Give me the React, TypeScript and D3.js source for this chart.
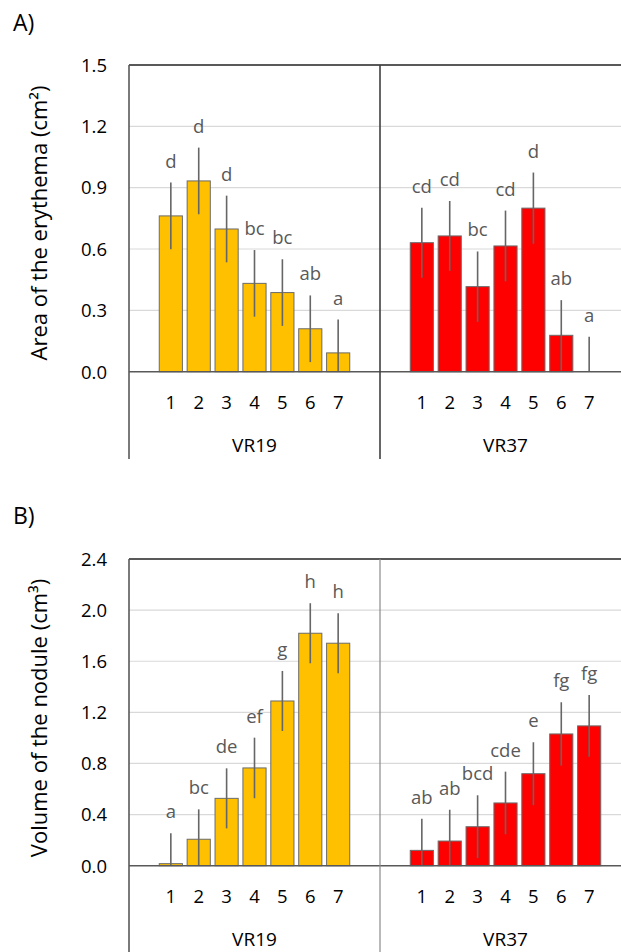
import React, { useRef, useEffect } from "react";
import * as d3 from "d3";

// values
const categories = ["1", "2", "3", "4", "5", "6", "7"];
const groups = ["VR19", "VR37"];

const areaTicks = [0, 0.3, 0.6, 0.9, 1.2, 1.5];
const areaVR19 = [0.762, 0.933, 0.698, 0.432, 0.387, 0.21, 0.092];
const areaVR19Err = [0.163, 0.163, 0.163, 0.163, 0.163, 0.163, 0.163];
const areaVR19Letters = ["d", "d", "d", "bc", "bc", "ab", "a"];
const areaVR37 = [0.631, 0.664, 0.416, 0.615, 0.8, 0.178, 0];
const areaVR37Err = [0.171, 0.171, 0.172, 0.173, 0.174, 0.172, 0.171];
const areaVR37Letters = ["cd", "cd", "bc", "cd", "d", "ab", "a"];

const noduleTicks = [0, 0.4, 0.8, 1.2, 1.6, 2.0, 2.4];
const noduleVR19 = [0.016, 0.207, 0.527, 0.765, 1.289, 1.819, 1.741];
const noduleVR19Err = [0.237, 0.234, 0.235, 0.237, 0.235, 0.235, 0.235];
const noduleVR37 = [0.12, 0.193, 0.305, 0.491, 0.72, 1.031, 1.094];
const noduleVR37Err = [0.248, 0.245, 0.246, 0.245, 0.246, 0.248, 0.242];
const noduleVR19Letters = ["a", "bc", "de", "ef", "g", "h", "h"];
const noduleVR37Letters = ["ab", "ab", "bcd", "cde", "e", "fg", "fg"];

const barColors = { VR19: "#FFC000", VR37: "#FF0000" };
const FONT = "'Open Sans', 'Liberation Sans', sans-serif";

const App = () => {
  const svgRef = useRef(null);

  useEffect(() => {
    const svg = d3.select(svgRef.current);
    svg.selectAll("*").remove();

    const left = 129;
    const groupWidth = 251;

    const xGroup = d3
      .scaleBand()
      .domain(groups)
      .range([left, left + groupWidth * 2]);

    // two empty slots around the 7 bars of each group
    const xInner = d3
      .scaleBand()
      .domain(categories)
      .range([0, groupWidth])
      .paddingInner(0.17)
      .paddingOuter(1 + 0.085);

    const drawPanel = (cfg) => {
      const g = svg.append("g");
      const y = d3.scaleLinear().domain([0, cfg.yMax]).range([cfg.bottom, cfg.top]);
      const right = left + groupWidth * 2;

      // panel label
      g.append("text")
        .attr("x", 13)
        .attr("y", cfg.labelY)
        .attr("font-family", FONT)
        .attr("font-size", 23)
        .attr("fill", "#000")
        .text(cfg.label);

      // gridlines
      g.selectAll(".grid")
        .data(cfg.ticks.slice(1, -1))
        .join("line")
        .attr("x1", left)
        .attr("x2", right)
        .attr("y1", (d) => y(d))
        .attr("y2", (d) => y(d))
        .attr("stroke", "#d9d9d9")
        .attr("stroke-width", 1.2);

      // top border
      g.append("line")
        .attr("x1", left)
        .attr("x2", right)
        .attr("y1", y(cfg.yMax))
        .attr("y2", y(cfg.yMax))
        .attr("stroke", "#595959")
        .attr("stroke-width", 1.8);

      // tick labels
      g.selectAll(".tick")
        .data(cfg.ticks)
        .join("text")
        .attr("x", 107)
        .attr("y", (d) => y(d) + 6.8)
        .attr("text-anchor", "end")
        .attr("font-family", FONT)
        .attr("font-size", 18.5)
        .attr("fill", "#000")
        .text((d) => d3.format(".1f")(d));

      // y axis title
      g.append("text")
        .attr("transform", `translate(46.5, ${cfg.titleY}) rotate(-90)`)
        .attr("text-anchor", "middle")
        .attr("font-family", FONT)
        .attr("font-size", 22)
        .attr("fill", "#000")
        .text(cfg.title);

      cfg.series.forEach((s) => {
        const gx = xGroup(s.group);
        const bars = g.append("g").attr("transform", `translate(${gx},0)`);
        const rows = categories.map((c, i) => ({
          c,
          v: s.values[i],
          e: s.errors[i],
          l: s.letters[i],
        }));

        bars.selectAll("rect")
          .data(rows.filter((d) => d.v > 0))
          .join("rect")
          .attr("x", (d) => xInner(d.c))
          .attr("width", xInner.bandwidth())
          .attr("y", (d) => y(d.v))
          .attr("height", (d) => y(0) - y(d.v))
          .attr("fill", barColors[s.group])
          .attr("stroke", "#6b6b6b")
          .attr("stroke-width", 1);

        const cx = (d) => xInner(d.c) + xInner.bandwidth() / 2;

        bars.selectAll(".err")
          .data(rows)
          .join("line")
          .attr("x1", cx)
          .attr("x2", cx)
          .attr("y1", (d) => y(Math.max(0, d.v - d.e)))
          .attr("y2", (d) => y(d.v + d.e))
          .attr("stroke", "#666")
          .attr("stroke-width", 1.6);

        bars.selectAll(".letter")
          .data(rows)
          .join("text")
          .attr("x", cx)
          .attr("y", (d) => y(d.v + d.e) - 15)
          .attr("text-anchor", "middle")
          .attr("font-family", FONT)
          .attr("font-size", 18.5)
          .attr("fill", "#595959")
          .text((d) => d.l);

        // category numbers
        bars.selectAll(".cat")
          .data(categories)
          .join("text")
          .attr("x", (d) => xInner(d) + xInner.bandwidth() / 2)
          .attr("y", cfg.bottom + 37)
          .attr("text-anchor", "middle")
          .attr("font-family", FONT)
          .attr("font-size", 18.5)
          .attr("fill", "#000")
          .text((d) => d);

        // group label
        bars.append("text")
          .attr("x", groupWidth / 2)
          .attr("y", cfg.bottom + 80)
          .attr("text-anchor", "middle")
          .attr("font-family", FONT)
          .attr("font-size", 19)
          .attr("fill", "#000")
          .text(s.group);
      });

      // zero baseline
      g.append("line")
        .attr("x1", left)
        .attr("x2", right)
        .attr("y1", y(0))
        .attr("y2", y(0))
        .attr("stroke", "#595959")
        .attr("stroke-width", 1.6);

      // left axis and group divider
      g.append("line")
        .attr("x1", left)
        .attr("x2", left)
        .attr("y1", y(cfg.yMax))
        .attr("y2", cfg.lineBottom)
        .attr("stroke", "#595959")
        .attr("stroke-width", 1.6);

      g.append("line")
        .attr("x1", xGroup("VR37"))
        .attr("x2", xGroup("VR37"))
        .attr("y1", y(cfg.yMax))
        .attr("y2", cfg.lineBottom)
        .attr("stroke", cfg.dividerColor)
        .attr("stroke-width", cfg.dividerWidth);
    };

    drawPanel({
      label: "A)",
      labelY: 31,
      top: 65,
      bottom: 371.7,
      yMax: 1.5,
      ticks: areaTicks,
      title: "Area of the erythema (cm²)",
      titleY: 223,
      lineBottom: 459,
      dividerColor: "#404040",
      dividerWidth: 1.6,
      series: [
        { group: "VR19", values: areaVR19, errors: areaVR19Err, letters: areaVR19Letters },
        { group: "VR37", values: areaVR37, errors: areaVR37Err, letters: areaVR37Letters },
      ],
    });

    drawPanel({
      label: "B)",
      labelY: 524,
      top: 559,
      bottom: 865.7,
      yMax: 2.4,
      ticks: noduleTicks,
      title: "Volume of the nodule (cm³)",
      titleY: 718,
      lineBottom: 952,
      dividerColor: "#8a8a8a",
      dividerWidth: 1.2,
      series: [
        { group: "VR19", values: noduleVR19, errors: noduleVR19Err, letters: noduleVR19Letters },
        { group: "VR37", values: noduleVR37, errors: noduleVR37Err, letters: noduleVR37Letters },
      ],
    });
  }, []);

  return (
    <svg
      ref={svgRef}
      width={621}
      height={952}
      style={{ position: "absolute", left: 0, top: 0, background: "#fff" }}
    />
  );
};

export default App;
